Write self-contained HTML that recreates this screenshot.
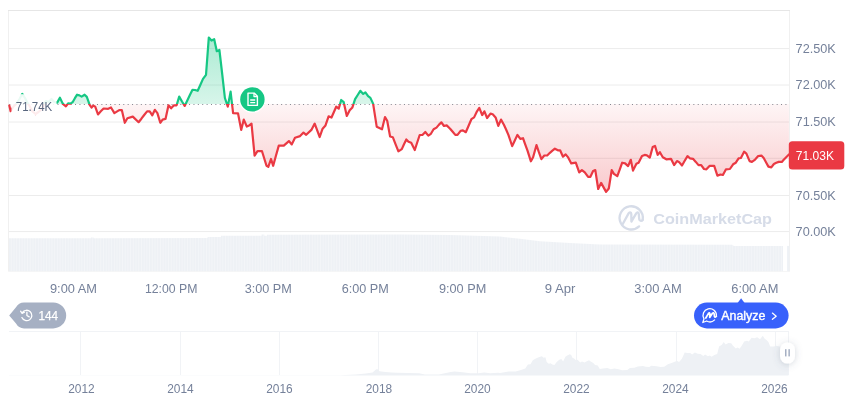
<!DOCTYPE html>
<html><head><meta charset="utf-8"><title>chart</title>
<style>
html,body{margin:0;padding:0;background:#fff;}
body{width:860px;height:401px;overflow:hidden;font-family:"Liberation Sans",sans-serif;}
svg{display:block;will-change:transform;}
.ax{font-family:"Liberation Sans",sans-serif;font-size:13px;fill:#75819a;}
</style></head><body>
<svg width="860" height="401" viewBox="0 0 860 401">
<defs>
<linearGradient id="gG" gradientUnits="userSpaceOnUse" x1="0" y1="37" x2="0" y2="104.0">
<stop offset="0" stop-color="#16c784" stop-opacity="0.36"/><stop offset="1" stop-color="#16c784" stop-opacity="0.17"/></linearGradient>
<linearGradient id="gR" gradientUnits="userSpaceOnUse" x1="0" y1="104.0" x2="0" y2="195">
<stop offset="0" stop-color="#ea3943" stop-opacity="0.05"/><stop offset="1" stop-color="#ea3943" stop-opacity="0.275"/></linearGradient>
<clipPath id="cU"><rect x="0" y="0" width="860" height="104.0"/></clipPath>
<clipPath id="cD"><rect x="0" y="104.0" width="860" height="200"/></clipPath>
<pattern id="vp" patternUnits="userSpaceOnUse" x="9" y="0" width="2.712" height="40"><rect x="0" y="0" width="2.712" height="40" fill="#eef1f5"/><rect x="2.2" y="0" width="0.512" height="40" fill="#f8f9fb"/></pattern>
<filter id="sh" x="-100%" y="-60%" width="300%" height="220%"><feDropShadow dx="0" dy="1" stdDeviation="3.6" flood-color="#58667e" flood-opacity="0.26"/></filter>
</defs>
<rect width="860" height="401" fill="#fff"/>
<!-- gridlines -->
<g stroke="#ececec" stroke-width="1">
<line x1="9" x2="789" y1="48.6" y2="48.6"/><line x1="9" x2="789" y1="85.0" y2="85.0"/><line x1="9" x2="789" y1="122.0" y2="122.0"/><line x1="9" x2="789" y1="158.3" y2="158.3"/><line x1="9" x2="789" y1="195.5" y2="195.5"/><line x1="9" x2="789" y1="231.6" y2="231.6"/>
</g>
<!-- borders -->
<g shape-rendering="crispEdges"><line x1="8" x2="790" y1="10.5" y2="10.5" stroke="#e6e6e6"/>
<line x1="8.5" x2="8.5" y1="11" y2="271" stroke="#f0f0f0"/><line x1="789.5" x2="789.5" y1="11" y2="271" stroke="#f0f0f0"/>
<line x1="8" x2="790" y1="271.5" y2="271.5" stroke="#f6f6f6"/></g>
<!-- watermark -->
<g opacity="1">
<path d="M639.1 226.4 A11.6 11.6 0 1 1 642.7 219.5" fill="none" stroke="#d6dce8" stroke-width="2.3" stroke-linecap="round"/>
<path d="M622.6 224.3 L628.6 213.4 C629.4 212 631.2 212 631.3 214 L631.4 221.6 L636.2 213.4 C637 212 638.6 212 638.8 214 L639.2 219 C639.6 221.6 642 221.2 642.9 219.6" fill="none" stroke="#d6dce8" stroke-width="2.3" stroke-linejoin="round" stroke-linecap="round"/>
<text x="653.2" y="223.9" textLength="118.8" lengthAdjust="spacingAndGlyphs" font-family="Liberation Sans, sans-serif" font-weight="bold" font-size="15.5" fill="#d6dce8">CoinMarketCap</text>
</g>
<!-- volume -->
<polygon points="9.0,238.2 91.0,238.2 91.0,237.6 93.6,237.6 93.6,238.2 207.6,238.1 207.6,237.0 221.0,237.0 221.0,235.8 261.6,235.8 261.6,234.6 264.3,234.6 264.3,235.8 267.0,235.8 267.0,234.7 400.0,234.4 450.0,235.0 500.0,236.6 520.0,238.8 540.0,241.3 570.0,243.0 600.0,244.5 732.0,244.8 734.0,245.9 783.0,245.9 783,271.2 9,271.2" fill="url(#vp)"/>
<rect x="787.1" y="245.9" width="2.4" height="25.3" fill="#eef1f5"/>
<!-- areas -->
<polygon points="9.3,104.0 9.3,105.6 10.6,111.2 13.5,106.5 16.5,103.5 19.5,99.0 22.3,93.9 25.0,98.0 27.0,102.0 29.5,106.0 32.5,111.5 35.5,114.0 38.5,112.0 41.9,109.0 44.0,104.0 45.9,101.0 48.9,102.0 51.5,99.0 54.3,102.0 57.2,102.6 59.9,97.7 62.6,103.4 64.4,105.2 65.9,106.4 68.1,103.4 70.4,103.7 72.6,102.2 74.9,98.2 77.1,94.7 79.4,95.4 81.6,96.6 84.6,94.7 86.8,96.9 89.8,105.2 91.6,107.6 93.4,105.6 95.2,106.6 98.0,114.4 100.8,111.3 103.6,108.5 108.2,108.8 111.0,107.5 114.4,113.1 119.2,110.1 121.8,110.1 124.8,122.8 127.4,118.3 132.8,116.6 138.6,122.2 141.4,118.7 144.2,115.0 147.1,111.4 149.7,111.4 152.3,115.3 154.9,109.8 157.4,113.1 160.3,122.8 162.6,119.6 165.5,118.9 168.5,105.3 171.1,108.3 174.0,105.3 176.6,105.3 179.2,96.6 182.0,101.5 184.7,105.9 187.3,100.5 190.0,94.8 192.5,89.8 195.0,90.0 197.7,90.8 200.3,85.0 203.0,78.9 206.0,74.9 208.8,37.6 211.5,40.6 214.2,39.2 216.8,51.2 219.4,50.0 222.2,74.0 224.9,98.0 227.8,106.6 230.6,91.6 233.1,113.2 238.0,113.3 241.2,129.9 243.8,119.6 246.8,126.5 249.2,125.4 251.5,123.6 254.6,155.7 257.5,151.2 262.0,151.2 266.5,165.8 268.3,166.9 271.0,159.0 273.2,165.8 276.0,155.5 278.8,145.6 283.8,145.6 288.9,141.1 291.8,144.4 295.0,137.7 300.1,136.1 303.5,132.6 306.2,134.8 311.4,129.9 314.7,123.6 317.2,130.3 319.7,137.0 322.6,128.7 325.5,125.4 328.6,116.4 331.5,117.5 333.8,112.2 336.2,106.7 338.7,108.7 341.2,100.0 343.7,102.2 346.8,115.9 349.7,110.3 352.4,107.4 355.1,99.1 357.7,95.0 360.3,90.8 363.2,93.9 365.4,92.3 368.1,96.2 370.4,97.9 373.1,103.6 376.7,126.7 382.0,129.3 385.0,117.0 387.2,120.8 390.1,136.5 392.8,137.2 395.6,144.3 398.4,151.3 401.8,149.1 404.0,144.2 406.3,139.4 408.5,141.7 411.2,142.8 414.8,150.0 417.2,142.5 419.7,135.0 422.4,135.0 425.3,132.0 428.3,135.6 430.9,133.8 433.6,129.3 436.5,127.6 438.8,124.9 441.4,122.3 444.0,126.0 446.7,125.4 450.1,128.7 452.7,131.8 455.3,134.9 457.5,134.9 460.6,130.8 462.9,130.4 465.8,132.2 468.6,125.7 471.4,119.2 474.1,117.4 477.0,111.3 479.3,107.9 482.2,115.1 484.4,111.3 487.1,118.0 490.5,113.6 492.7,114.2 495.6,117.4 498.3,125.9 501.0,119.6 503.9,124.8 506.2,129.8 508.4,134.9 510.3,140.5 512.2,146.1 514.8,140.5 517.4,134.9 520.3,138.9 523.0,138.2 525.2,144.4 527.5,150.6 530.9,161.3 533.1,157.3 536.5,145.0 538.7,151.7 541.4,159.1 544.3,155.5 547.2,155.5 549.9,152.8 552.4,150.7 554.9,148.7 557.9,150.3 560.1,150.3 563.0,156.7 565.7,154.4 567.9,157.1 571.3,163.4 575.8,162.7 579.2,172.4 581.9,170.1 584.8,172.4 588.1,176.8 590.4,176.8 593.1,171.0 595.3,170.1 598.2,189.0 601.1,182.9 603.6,187.4 606.1,191.9 608.8,188.5 611.7,170.1 613.9,173.9 617.3,176.2 619.8,169.4 622.2,162.7 625.1,163.4 628.1,166.1 630.8,159.8 633.0,170.6 636.4,163.8 638.6,162.7 642.0,156.0 644.7,154.9 646.9,155.3 649.8,157.6 652.7,147.0 655.0,145.9 657.7,154.9 659.9,152.2 662.8,157.2 666.3,159.3 671.0,158.8 674.1,165.1 677.0,161.1 678.9,161.9 682.0,165.5 684.7,160.8 687.5,156.1 689.9,158.3 693.0,158.8 695.8,161.9 698.5,165.1 701.2,165.1 704.0,169.0 706.4,169.3 709.5,165.9 714.2,165.9 717.4,175.6 720.5,174.5 722.9,175.0 726.0,169.3 729.9,169.0 733.1,164.3 735.8,162.7 738.6,158.3 740.9,158.0 744.1,151.7 746.4,153.6 749.6,161.1 751.9,161.9 755.1,159.6 758.2,156.1 761.4,155.6 763.7,158.0 766.0,162.3 768.4,166.6 771.3,167.4 773.9,164.0 776.3,162.8 778.7,161.9 781.8,161.9 783.7,159.8 785.7,157.7 788.9,154.5 788.9,104.0" fill="url(#gG)" clip-path="url(#cU)"/>
<polygon points="9.3,104.0 9.3,105.6 10.6,111.2 13.5,106.5 16.5,103.5 19.5,99.0 22.3,93.9 25.0,98.0 27.0,102.0 29.5,106.0 32.5,111.5 35.5,114.0 38.5,112.0 41.9,109.0 44.0,104.0 45.9,101.0 48.9,102.0 51.5,99.0 54.3,102.0 57.2,102.6 59.9,97.7 62.6,103.4 64.4,105.2 65.9,106.4 68.1,103.4 70.4,103.7 72.6,102.2 74.9,98.2 77.1,94.7 79.4,95.4 81.6,96.6 84.6,94.7 86.8,96.9 89.8,105.2 91.6,107.6 93.4,105.6 95.2,106.6 98.0,114.4 100.8,111.3 103.6,108.5 108.2,108.8 111.0,107.5 114.4,113.1 119.2,110.1 121.8,110.1 124.8,122.8 127.4,118.3 132.8,116.6 138.6,122.2 141.4,118.7 144.2,115.0 147.1,111.4 149.7,111.4 152.3,115.3 154.9,109.8 157.4,113.1 160.3,122.8 162.6,119.6 165.5,118.9 168.5,105.3 171.1,108.3 174.0,105.3 176.6,105.3 179.2,96.6 182.0,101.5 184.7,105.9 187.3,100.5 190.0,94.8 192.5,89.8 195.0,90.0 197.7,90.8 200.3,85.0 203.0,78.9 206.0,74.9 208.8,37.6 211.5,40.6 214.2,39.2 216.8,51.2 219.4,50.0 222.2,74.0 224.9,98.0 227.8,106.6 230.6,91.6 233.1,113.2 238.0,113.3 241.2,129.9 243.8,119.6 246.8,126.5 249.2,125.4 251.5,123.6 254.6,155.7 257.5,151.2 262.0,151.2 266.5,165.8 268.3,166.9 271.0,159.0 273.2,165.8 276.0,155.5 278.8,145.6 283.8,145.6 288.9,141.1 291.8,144.4 295.0,137.7 300.1,136.1 303.5,132.6 306.2,134.8 311.4,129.9 314.7,123.6 317.2,130.3 319.7,137.0 322.6,128.7 325.5,125.4 328.6,116.4 331.5,117.5 333.8,112.2 336.2,106.7 338.7,108.7 341.2,100.0 343.7,102.2 346.8,115.9 349.7,110.3 352.4,107.4 355.1,99.1 357.7,95.0 360.3,90.8 363.2,93.9 365.4,92.3 368.1,96.2 370.4,97.9 373.1,103.6 376.7,126.7 382.0,129.3 385.0,117.0 387.2,120.8 390.1,136.5 392.8,137.2 395.6,144.3 398.4,151.3 401.8,149.1 404.0,144.2 406.3,139.4 408.5,141.7 411.2,142.8 414.8,150.0 417.2,142.5 419.7,135.0 422.4,135.0 425.3,132.0 428.3,135.6 430.9,133.8 433.6,129.3 436.5,127.6 438.8,124.9 441.4,122.3 444.0,126.0 446.7,125.4 450.1,128.7 452.7,131.8 455.3,134.9 457.5,134.9 460.6,130.8 462.9,130.4 465.8,132.2 468.6,125.7 471.4,119.2 474.1,117.4 477.0,111.3 479.3,107.9 482.2,115.1 484.4,111.3 487.1,118.0 490.5,113.6 492.7,114.2 495.6,117.4 498.3,125.9 501.0,119.6 503.9,124.8 506.2,129.8 508.4,134.9 510.3,140.5 512.2,146.1 514.8,140.5 517.4,134.9 520.3,138.9 523.0,138.2 525.2,144.4 527.5,150.6 530.9,161.3 533.1,157.3 536.5,145.0 538.7,151.7 541.4,159.1 544.3,155.5 547.2,155.5 549.9,152.8 552.4,150.7 554.9,148.7 557.9,150.3 560.1,150.3 563.0,156.7 565.7,154.4 567.9,157.1 571.3,163.4 575.8,162.7 579.2,172.4 581.9,170.1 584.8,172.4 588.1,176.8 590.4,176.8 593.1,171.0 595.3,170.1 598.2,189.0 601.1,182.9 603.6,187.4 606.1,191.9 608.8,188.5 611.7,170.1 613.9,173.9 617.3,176.2 619.8,169.4 622.2,162.7 625.1,163.4 628.1,166.1 630.8,159.8 633.0,170.6 636.4,163.8 638.6,162.7 642.0,156.0 644.7,154.9 646.9,155.3 649.8,157.6 652.7,147.0 655.0,145.9 657.7,154.9 659.9,152.2 662.8,157.2 666.3,159.3 671.0,158.8 674.1,165.1 677.0,161.1 678.9,161.9 682.0,165.5 684.7,160.8 687.5,156.1 689.9,158.3 693.0,158.8 695.8,161.9 698.5,165.1 701.2,165.1 704.0,169.0 706.4,169.3 709.5,165.9 714.2,165.9 717.4,175.6 720.5,174.5 722.9,175.0 726.0,169.3 729.9,169.0 733.1,164.3 735.8,162.7 738.6,158.3 740.9,158.0 744.1,151.7 746.4,153.6 749.6,161.1 751.9,161.9 755.1,159.6 758.2,156.1 761.4,155.6 763.7,158.0 766.0,162.3 768.4,166.6 771.3,167.4 773.9,164.0 776.3,162.8 778.7,161.9 781.8,161.9 783.7,159.8 785.7,157.7 788.9,154.5 788.9,104.0" fill="url(#gR)" clip-path="url(#cD)"/>
<!-- baseline dotted -->
<line x1="9.285" x2="789" y1="104.5" y2="104.5" stroke="#83868f" stroke-width="1" stroke-dasharray="1 3.385"/>
<!-- lines -->
<polyline points="9.3,105.6 10.6,111.2 13.5,106.5 16.5,103.5 19.5,99.0 22.3,93.9 25.0,98.0 27.0,102.0 29.5,106.0 32.5,111.5 35.5,114.0 38.5,112.0 41.9,109.0 44.0,104.0 45.9,101.0 48.9,102.0 51.5,99.0 54.3,102.0 57.2,102.6 59.9,97.7 62.6,103.4 64.4,105.2 65.9,106.4 68.1,103.4 70.4,103.7 72.6,102.2 74.9,98.2 77.1,94.7 79.4,95.4 81.6,96.6 84.6,94.7 86.8,96.9 89.8,105.2 91.6,107.6 93.4,105.6 95.2,106.6 98.0,114.4 100.8,111.3 103.6,108.5 108.2,108.8 111.0,107.5 114.4,113.1 119.2,110.1 121.8,110.1 124.8,122.8 127.4,118.3 132.8,116.6 138.6,122.2 141.4,118.7 144.2,115.0 147.1,111.4 149.7,111.4 152.3,115.3 154.9,109.8 157.4,113.1 160.3,122.8 162.6,119.6 165.5,118.9 168.5,105.3 171.1,108.3 174.0,105.3 176.6,105.3 179.2,96.6 182.0,101.5 184.7,105.9 187.3,100.5 190.0,94.8 192.5,89.8 195.0,90.0 197.7,90.8 200.3,85.0 203.0,78.9 206.0,74.9 208.8,37.6 211.5,40.6 214.2,39.2 216.8,51.2 219.4,50.0 222.2,74.0 224.9,98.0 227.8,106.6 230.6,91.6 233.1,113.2 238.0,113.3 241.2,129.9 243.8,119.6 246.8,126.5 249.2,125.4 251.5,123.6 254.6,155.7 257.5,151.2 262.0,151.2 266.5,165.8 268.3,166.9 271.0,159.0 273.2,165.8 276.0,155.5 278.8,145.6 283.8,145.6 288.9,141.1 291.8,144.4 295.0,137.7 300.1,136.1 303.5,132.6 306.2,134.8 311.4,129.9 314.7,123.6 317.2,130.3 319.7,137.0 322.6,128.7 325.5,125.4 328.6,116.4 331.5,117.5 333.8,112.2 336.2,106.7 338.7,108.7 341.2,100.0 343.7,102.2 346.8,115.9 349.7,110.3 352.4,107.4 355.1,99.1 357.7,95.0 360.3,90.8 363.2,93.9 365.4,92.3 368.1,96.2 370.4,97.9 373.1,103.6 376.7,126.7 382.0,129.3 385.0,117.0 387.2,120.8 390.1,136.5 392.8,137.2 395.6,144.3 398.4,151.3 401.8,149.1 404.0,144.2 406.3,139.4 408.5,141.7 411.2,142.8 414.8,150.0 417.2,142.5 419.7,135.0 422.4,135.0 425.3,132.0 428.3,135.6 430.9,133.8 433.6,129.3 436.5,127.6 438.8,124.9 441.4,122.3 444.0,126.0 446.7,125.4 450.1,128.7 452.7,131.8 455.3,134.9 457.5,134.9 460.6,130.8 462.9,130.4 465.8,132.2 468.6,125.7 471.4,119.2 474.1,117.4 477.0,111.3 479.3,107.9 482.2,115.1 484.4,111.3 487.1,118.0 490.5,113.6 492.7,114.2 495.6,117.4 498.3,125.9 501.0,119.6 503.9,124.8 506.2,129.8 508.4,134.9 510.3,140.5 512.2,146.1 514.8,140.5 517.4,134.9 520.3,138.9 523.0,138.2 525.2,144.4 527.5,150.6 530.9,161.3 533.1,157.3 536.5,145.0 538.7,151.7 541.4,159.1 544.3,155.5 547.2,155.5 549.9,152.8 552.4,150.7 554.9,148.7 557.9,150.3 560.1,150.3 563.0,156.7 565.7,154.4 567.9,157.1 571.3,163.4 575.8,162.7 579.2,172.4 581.9,170.1 584.8,172.4 588.1,176.8 590.4,176.8 593.1,171.0 595.3,170.1 598.2,189.0 601.1,182.9 603.6,187.4 606.1,191.9 608.8,188.5 611.7,170.1 613.9,173.9 617.3,176.2 619.8,169.4 622.2,162.7 625.1,163.4 628.1,166.1 630.8,159.8 633.0,170.6 636.4,163.8 638.6,162.7 642.0,156.0 644.7,154.9 646.9,155.3 649.8,157.6 652.7,147.0 655.0,145.9 657.7,154.9 659.9,152.2 662.8,157.2 666.3,159.3 671.0,158.8 674.1,165.1 677.0,161.1 678.9,161.9 682.0,165.5 684.7,160.8 687.5,156.1 689.9,158.3 693.0,158.8 695.8,161.9 698.5,165.1 701.2,165.1 704.0,169.0 706.4,169.3 709.5,165.9 714.2,165.9 717.4,175.6 720.5,174.5 722.9,175.0 726.0,169.3 729.9,169.0 733.1,164.3 735.8,162.7 738.6,158.3 740.9,158.0 744.1,151.7 746.4,153.6 749.6,161.1 751.9,161.9 755.1,159.6 758.2,156.1 761.4,155.6 763.7,158.0 766.0,162.3 768.4,166.6 771.3,167.4 773.9,164.0 776.3,162.8 778.7,161.9 781.8,161.9 783.7,159.8 785.7,157.7 788.9,154.5" fill="none" stroke="#16c784" stroke-width="2.2" stroke-linejoin="round" stroke-linecap="round" clip-path="url(#cU)"/>
<polyline points="9.3,105.6 10.6,111.2 13.5,106.5 16.5,103.5 19.5,99.0 22.3,93.9 25.0,98.0 27.0,102.0 29.5,106.0 32.5,111.5 35.5,114.0 38.5,112.0 41.9,109.0 44.0,104.0 45.9,101.0 48.9,102.0 51.5,99.0 54.3,102.0 57.2,102.6 59.9,97.7 62.6,103.4 64.4,105.2 65.9,106.4 68.1,103.4 70.4,103.7 72.6,102.2 74.9,98.2 77.1,94.7 79.4,95.4 81.6,96.6 84.6,94.7 86.8,96.9 89.8,105.2 91.6,107.6 93.4,105.6 95.2,106.6 98.0,114.4 100.8,111.3 103.6,108.5 108.2,108.8 111.0,107.5 114.4,113.1 119.2,110.1 121.8,110.1 124.8,122.8 127.4,118.3 132.8,116.6 138.6,122.2 141.4,118.7 144.2,115.0 147.1,111.4 149.7,111.4 152.3,115.3 154.9,109.8 157.4,113.1 160.3,122.8 162.6,119.6 165.5,118.9 168.5,105.3 171.1,108.3 174.0,105.3 176.6,105.3 179.2,96.6 182.0,101.5 184.7,105.9 187.3,100.5 190.0,94.8 192.5,89.8 195.0,90.0 197.7,90.8 200.3,85.0 203.0,78.9 206.0,74.9 208.8,37.6 211.5,40.6 214.2,39.2 216.8,51.2 219.4,50.0 222.2,74.0 224.9,98.0 227.8,106.6 230.6,91.6 233.1,113.2 238.0,113.3 241.2,129.9 243.8,119.6 246.8,126.5 249.2,125.4 251.5,123.6 254.6,155.7 257.5,151.2 262.0,151.2 266.5,165.8 268.3,166.9 271.0,159.0 273.2,165.8 276.0,155.5 278.8,145.6 283.8,145.6 288.9,141.1 291.8,144.4 295.0,137.7 300.1,136.1 303.5,132.6 306.2,134.8 311.4,129.9 314.7,123.6 317.2,130.3 319.7,137.0 322.6,128.7 325.5,125.4 328.6,116.4 331.5,117.5 333.8,112.2 336.2,106.7 338.7,108.7 341.2,100.0 343.7,102.2 346.8,115.9 349.7,110.3 352.4,107.4 355.1,99.1 357.7,95.0 360.3,90.8 363.2,93.9 365.4,92.3 368.1,96.2 370.4,97.9 373.1,103.6 376.7,126.7 382.0,129.3 385.0,117.0 387.2,120.8 390.1,136.5 392.8,137.2 395.6,144.3 398.4,151.3 401.8,149.1 404.0,144.2 406.3,139.4 408.5,141.7 411.2,142.8 414.8,150.0 417.2,142.5 419.7,135.0 422.4,135.0 425.3,132.0 428.3,135.6 430.9,133.8 433.6,129.3 436.5,127.6 438.8,124.9 441.4,122.3 444.0,126.0 446.7,125.4 450.1,128.7 452.7,131.8 455.3,134.9 457.5,134.9 460.6,130.8 462.9,130.4 465.8,132.2 468.6,125.7 471.4,119.2 474.1,117.4 477.0,111.3 479.3,107.9 482.2,115.1 484.4,111.3 487.1,118.0 490.5,113.6 492.7,114.2 495.6,117.4 498.3,125.9 501.0,119.6 503.9,124.8 506.2,129.8 508.4,134.9 510.3,140.5 512.2,146.1 514.8,140.5 517.4,134.9 520.3,138.9 523.0,138.2 525.2,144.4 527.5,150.6 530.9,161.3 533.1,157.3 536.5,145.0 538.7,151.7 541.4,159.1 544.3,155.5 547.2,155.5 549.9,152.8 552.4,150.7 554.9,148.7 557.9,150.3 560.1,150.3 563.0,156.7 565.7,154.4 567.9,157.1 571.3,163.4 575.8,162.7 579.2,172.4 581.9,170.1 584.8,172.4 588.1,176.8 590.4,176.8 593.1,171.0 595.3,170.1 598.2,189.0 601.1,182.9 603.6,187.4 606.1,191.9 608.8,188.5 611.7,170.1 613.9,173.9 617.3,176.2 619.8,169.4 622.2,162.7 625.1,163.4 628.1,166.1 630.8,159.8 633.0,170.6 636.4,163.8 638.6,162.7 642.0,156.0 644.7,154.9 646.9,155.3 649.8,157.6 652.7,147.0 655.0,145.9 657.7,154.9 659.9,152.2 662.8,157.2 666.3,159.3 671.0,158.8 674.1,165.1 677.0,161.1 678.9,161.9 682.0,165.5 684.7,160.8 687.5,156.1 689.9,158.3 693.0,158.8 695.8,161.9 698.5,165.1 701.2,165.1 704.0,169.0 706.4,169.3 709.5,165.9 714.2,165.9 717.4,175.6 720.5,174.5 722.9,175.0 726.0,169.3 729.9,169.0 733.1,164.3 735.8,162.7 738.6,158.3 740.9,158.0 744.1,151.7 746.4,153.6 749.6,161.1 751.9,161.9 755.1,159.6 758.2,156.1 761.4,155.6 763.7,158.0 766.0,162.3 768.4,166.6 771.3,167.4 773.9,164.0 776.3,162.8 778.7,161.9 781.8,161.9 783.7,159.8 785.7,157.7 788.9,154.5" fill="none" stroke="#ea3943" stroke-width="2.2" stroke-linejoin="round" stroke-linecap="round" clip-path="url(#cD)"/>
<!-- left label -->
<rect x="11.5" y="94.2" width="45" height="21" fill="#fff" fill-opacity="0.9"/>
<text x="15.8" y="110.7" textLength="36.4" lengthAdjust="spacingAndGlyphs" font-family="Liberation Sans, sans-serif" font-size="12" fill="#58667e">71.74K</text>
<!-- doc marker -->
<circle cx="252.4" cy="99.4" r="13.4" fill="#fff"/>
<circle cx="252.4" cy="99.4" r="12.2" fill="#16c784"/>
<path d="M248 93.1 H254.2 L257.4 96.3 V105.4 H248 Z" fill="none" stroke="#fff" stroke-width="1.4" stroke-linejoin="round"/>
<path d="M254 93.1 V96.6 H257.4" fill="none" stroke="#fff" stroke-width="1.3" stroke-linejoin="round"/>
<path d="M250.2 100 H255.2 M250.2 102.7 H255.2" stroke="#fff" stroke-width="1.3"/>
<!-- y labels -->
<text x="795.6" y="52.9" textLength="40.2" lengthAdjust="spacingAndGlyphs" class="ax">72.50K</text>
<text x="795.6" y="89.4" textLength="40.2" lengthAdjust="spacingAndGlyphs" class="ax">72.00K</text>
<text x="795.6" y="126.2" textLength="40.2" lengthAdjust="spacingAndGlyphs" class="ax">71.50K</text>
<text x="795.6" y="199.7" textLength="40.2" lengthAdjust="spacingAndGlyphs" class="ax">70.50K</text>
<text x="795.6" y="236.0" textLength="40.2" lengthAdjust="spacingAndGlyphs" class="ax">70.00K</text>
<!-- current price tag -->
<rect x="788.8" y="141.2" width="55.5" height="28.2" rx="3.5" fill="#ea3943"/>
<text x="795.8" y="159.8" textLength="38.2" lengthAdjust="spacingAndGlyphs" font-family="Liberation Sans, sans-serif" font-size="13" fill="#fff">71.03K</text>
<!-- x labels -->
<text x="73.5" y="293.0" textLength="47.0" lengthAdjust="spacingAndGlyphs" class="ax" text-anchor="middle">9:00 AM</text>
<text x="171.2" y="293.0" textLength="52.5" lengthAdjust="spacingAndGlyphs" class="ax" text-anchor="middle">12:00 PM</text>
<text x="268.2" y="293.0" textLength="47.1" lengthAdjust="spacingAndGlyphs" class="ax" text-anchor="middle">3:00 PM</text>
<text x="365.2" y="293.0" textLength="47.1" lengthAdjust="spacingAndGlyphs" class="ax" text-anchor="middle">6:00 PM</text>
<text x="462.6" y="293.0" textLength="47.3" lengthAdjust="spacingAndGlyphs" class="ax" text-anchor="middle">9:00 PM</text>
<text x="560.0" y="293.0" textLength="30.7" lengthAdjust="spacingAndGlyphs" class="ax" text-anchor="middle">9 Apr</text>
<text x="658.0" y="293.0" textLength="47.4" lengthAdjust="spacingAndGlyphs" class="ax" text-anchor="middle">3:00 AM</text>
<text x="754.8" y="293.0" textLength="47.1" lengthAdjust="spacingAndGlyphs" class="ax" text-anchor="middle">6:00 AM</text>
<!-- 144 badge -->
<path d="M9.2 315.4 L16 307.2 Q18.6 302.4 24 302.4 H53.2 A13 13 0 0 1 53.2 328.4 H24 Q18.6 328.4 16 323.6 Z" fill="#a6b0c3"/>
<g fill="none" stroke="#fff" stroke-width="1.3" stroke-linecap="round" stroke-linejoin="round">
<path d="M22.3 312.6 A5.2 5.2 0 1 1 21.9 317.6"/>
<path d="M20.6 311.2 L22.1 313.4 L24.4 312.2" />
<path d="M26.9 312.2 V315.5 L29.2 316.9"/>
</g>
<text x="38.4" y="319.8" textLength="19.6" lengthAdjust="spacingAndGlyphs" font-family="Liberation Sans, sans-serif" font-size="12" fill="#fff" stroke="#fff" stroke-width="0.25">144</text>
<!-- analyze button -->
<path d="M737.4 303.2 L741.1 298.3 L744.8 303.2 Z" fill="#3861fb"/>
<rect x="694" y="302.6" width="94.6" height="25.8" rx="12.9" fill="#3861fb"/>
<g fill="none" stroke="#fff" stroke-width="1.3" stroke-linecap="round" stroke-linejoin="round">
<path d="M714.6 319.9 A6.7 6.7 0 0 1 706.6 321 L702.8 322.5 L704 318.9 A6.7 6.7 0 1 1 716.4 315.9"/>
<path d="M705.8 318 L708.5 313.3 Q709.5 312.2 709.9 313.7 L709.7 317.4 L712.6 313.1 Q713.6 312.2 714.1 313.7 L714.5 316.6 Q715.1 317.9 716.4 316.3" stroke-width="1.7"/>
</g>
<text x="721.2" y="319.7" textLength="44.2" lengthAdjust="spacingAndGlyphs" font-family="Liberation Sans, sans-serif" font-size="12" fill="#fff" stroke="#fff" stroke-width="0.35">Analyze</text>
<path d="M772.4 313.1 L776.2 316.2 L772.4 319.3" fill="none" stroke="#fff" stroke-width="1.3" stroke-linecap="round" stroke-linejoin="round"/>
<!-- mini chart -->
<g stroke="#f1f3f6" shape-rendering="crispEdges">
<line x1="9" x2="789" y1="331.5" y2="331.5"/>
<line x1="80.5" x2="80.5" y1="332" y2="375"/><line x1="180.5" x2="180.5" y1="332" y2="375"/><line x1="279.5" x2="279.5" y1="332" y2="375"/>
<line x1="378.5" x2="378.5" y1="332" y2="375"/><line x1="477.5" x2="477.5" y1="332" y2="375"/><line x1="576.5" x2="576.5" y1="332" y2="375"/>
<line x1="676.5" x2="676.5" y1="332" y2="375"/><line x1="775.5" x2="775.5" y1="332" y2="375"/><line x1="788.5" x2="788.5" y1="332" y2="375"/>
</g>
<polygon points="9.0,375.3 340.0,375.2 355.8,374.6 365.7,373.6 372.6,372.6 375.6,369.7 377.2,368.9 379.5,371.2 385.5,372.0 391.4,372.6 397.3,372.8 419.1,373.2 425.0,374.4 438.8,374.4 444.8,373.2 450.7,372.0 454.6,371.6 462.6,372.2 470.5,373.2 478.4,373.2 484.3,372.4 490.2,373.2 498.1,372.8 500.0,373.0 508.7,371.6 515.7,371.6 520.9,369.9 525.3,368.5 527.9,364.6 530.5,364.3 532.8,360.3 534.9,359.0 537.5,357.7 540.1,356.8 541.9,356.3 543.6,357.7 545.4,357.3 546.7,362.0 548.8,363.8 550.6,363.2 552.3,364.6 554.4,365.0 556.7,362.0 559.3,359.7 561.4,359.0 563.1,361.5 565.4,356.8 567.2,355.6 569.8,354.2 571.2,355.0 572.4,357.7 574.1,358.5 575.9,360.3 577.6,359.7 580.2,362.5 582.0,361.5 584.6,362.5 586.3,361.5 589.0,360.3 590.7,361.5 593.3,362.9 595.1,365.0 597.7,365.5 599.8,369.0 602.9,368.5 607.3,368.1 610.8,369.2 614.3,368.6 618.6,369.2 622.1,370.2 627.3,369.9 629.9,368.1 634.3,367.8 637.8,366.4 643.0,366.0 645.6,366.7 649.3,367.1 651.2,365.8 656.7,366.3 660.5,367.1 664.2,366.7 667.9,364.3 671.6,363.0 675.3,361.5 677.2,361.1 679.1,361.9 681.9,358.7 684.7,352.6 687.4,353.1 690.2,353.1 692.1,354.4 694.9,352.6 697.7,353.7 700.5,354.0 703.3,355.9 705.1,354.4 707.9,356.3 709.8,355.5 711.6,356.8 714.4,355.0 717.2,354.0 719.1,346.6 721.9,344.7 723.7,342.0 725.6,344.4 728.4,342.9 731.2,343.3 733.0,345.7 735.8,348.5 737.7,347.5 739.5,348.8 741.4,346.2 744.2,341.4 747.0,340.7 748.8,341.4 751.6,337.7 754.4,338.2 757.2,337.3 760.0,339.2 762.8,335.8 764.7,338.8 766.5,340.1 768.4,342.0 770.2,346.6 774.0,346.6 776.7,345.7 779.5,346.6 788.5,347.0 788.5,375.6 9,375.6" fill="#eef1f5"/>
<!-- handle -->
<rect x="780" y="342.4" width="15" height="21.2" rx="7.5" fill="#fff" filter="url(#sh)"/>
<rect x="785" y="349.2" width="1.5" height="7.2" fill="#a6b0c3"/><rect x="788.4" y="349.2" width="1.5" height="7.2" fill="#a6b0c3"/>
<!-- year labels -->
<text x="81.5" y="393.4" textLength="26.5" lengthAdjust="spacingAndGlyphs" class="ax" text-anchor="middle">2012</text>
<text x="180.5" y="393.4" textLength="26.5" lengthAdjust="spacingAndGlyphs" class="ax" text-anchor="middle">2014</text>
<text x="279.5" y="393.4" textLength="26.5" lengthAdjust="spacingAndGlyphs" class="ax" text-anchor="middle">2016</text>
<text x="379.0" y="393.4" textLength="26.5" lengthAdjust="spacingAndGlyphs" class="ax" text-anchor="middle">2018</text>
<text x="477.5" y="393.4" textLength="26.5" lengthAdjust="spacingAndGlyphs" class="ax" text-anchor="middle">2020</text>
<text x="576.5" y="393.4" textLength="26.5" lengthAdjust="spacingAndGlyphs" class="ax" text-anchor="middle">2022</text>
<text x="675.5" y="393.4" textLength="26.5" lengthAdjust="spacingAndGlyphs" class="ax" text-anchor="middle">2024</text>
<text x="774.5" y="393.4" textLength="26.5" lengthAdjust="spacingAndGlyphs" class="ax" text-anchor="middle">2026</text>
</svg>
</body></html>
